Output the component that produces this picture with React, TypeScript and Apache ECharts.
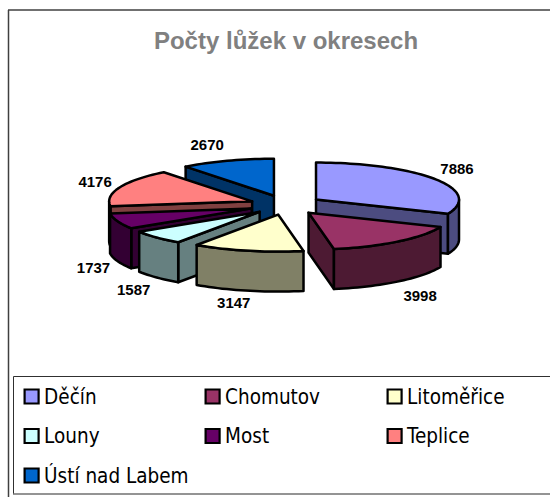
import React, { useEffect, useRef } from "react";
import * as echarts from "echarts";

const categories = ["Děčín", "Chomutov", "Litoměřice", "Louny", "Most", "Teplice", "Ústí nad Labem"];
const values = [7886, 3998, 3147, 1587, 1737, 4176, 2670];
const topColors = ["#9999FF", "#993366", "#FFFFCC", "#CCFFFF", "#660066", "#FF8080", "#0066CC"];
const sideColors = ["#4C4C80", "#4D1A33", "#808066", "#668080", "#330033", "#804040", "#003366"];
const drawZ = [2, 7, 6, 4, 3, 2, 1];
const labelNudge = [[22, -11], [22, 14], [-14, 12], [-23, 12.5], [-24, 6], [-24.5, -6.4], [-20, -16]];

const CX = 285.8, CY = 205, RX = 143, RY = 37, DX = 36.3, DY = 9.8, DEPTH = 40;
const total = values.reduce((a, b) => a + b, 0);
const rad = (d: number) => (d * Math.PI) / 180;

function renderSlice(index: number) {
  return (_params: any, api: any) => {
    const before = values.slice(0, index).reduce((a, b) => a + b, 0);
    const v = api.value(0);
    const t0 = (before / total) * 360;
    const t1 = ((before + v) / total) * 360;
    const mid = (t0 + t1) / 2;
    const ax = CX + DX * Math.sin(rad(mid));
    const ay = CY - DY * Math.cos(rad(mid));
    const pt = (t: number, z = 0): number[] => [ax + RX * Math.sin(rad(t)), ay - RY * Math.cos(rad(t)) + z];
    const arc = (a: number, b: number, z = 0) => {
      const n = Math.max(2, Math.ceil(Math.abs(b - a) / 2));
      const out: number[][] = [];
      for (let i = 0; i <= n; i++) out.push(pt(a + ((b - a) * i) / n, z));
      return out;
    };
    const line = { stroke: "#000", lineWidth: 2.5, lineJoin: "round" };
    const poly = (points: number[][], fill: string) => ({
      type: "polygon",
      shape: { points },
      style: { fill, ...line },
    });
    const side = sideColors[index];
    const children: any[] = [];
    // radial walls that face the viewer
    if (Math.sin(rad(t0)) < 0) {
      children.push(poly([[ax, ay], pt(t0), pt(t0, DEPTH), [ax, ay + DEPTH]], side));
    }
    if (Math.sin(rad(t1)) > 0) {
      children.push(poly([[ax, ay], pt(t1), pt(t1, DEPTH), [ax, ay + DEPTH]], side));
    }
    // outer rim, front half only
    const a = Math.max(t0, 90), b = Math.min(t1, 270);
    if (b > a) children.push(poly([...arc(a, b), ...arc(b, a, DEPTH)], side));
    // top
    children.push(poly([[ax, ay], ...arc(t0, t1)], topColors[index]));
    // value label
    const sm = Math.sin(rad(mid)), cm = Math.cos(rad(mid));
    const front = cm < 0 ? DEPTH : 0;
    children.push({
      type: "text",
      style: {
        x: ax + RX * sm + labelNudge[index][0],
        y: ay - RY * cm + front + labelNudge[index][1],
        text: String(v),
        fill: "#000",
        font: 'bold 15px "Liberation Sans", Arial, sans-serif',
        textAlign: "center",
        textVerticalAlign: "middle",
      },
    });
    return { type: "group", children };
  };
}

const legendBase = {
  orient: "vertical" as const,
  top: 386,
  padding: 0,
  itemWidth: 14,
  itemHeight: 14,
  itemGap: 18.5,
  icon: "rect",
  selectedMode: false,
  itemStyle: { borderColor: "#000", borderWidth: 2.2 },
  textStyle: { fontFamily: '"DejaVu Sans Condensed", sans-serif', fontSize: 20.5, color: "#000", padding: [0, 0, 0, 0.5] },
};

export default function App() {
  const ref = useRef<HTMLDivElement>(null);
  useEffect(() => {
    const chart = echarts.init(ref.current!, undefined, { renderer: "svg" });
    chart.setOption({
      animation: false,
      backgroundColor: "#fff",
      title: {
        text: "Počty lůžek v okresech",
        left: 281,
        top: 23,
        textAlign: "center",
        textStyle: { fontFamily: '"Liberation Sans", Arial, sans-serif', fontWeight: "bold", fontSize: 24, color: "#808080" },
      },
      legend: [
        { ...legendBase, left: 23.5, data: [categories[0], categories[3], categories[6]] },
        { ...legendBase, left: 204.5, data: [categories[1], categories[4]] },
        { ...legendBase, left: 386.5, data: [categories[2], categories[5]] },
      ],
      graphic: [
        { type: "line", shape: { x1: 8.5, y1: 10, x2: 8.5, y2: 497 }, style: { stroke: "#404040", lineWidth: 1.5 } },
        { type: "line", shape: { x1: 8, y1: 10, x2: 550, y2: 10 }, style: { stroke: "#404040", lineWidth: 1.5 } },
        { type: "line", shape: { x1: 13.5, y1: 376.5, x2: 550, y2: 376.5 }, style: { stroke: "#303030", lineWidth: 1 } },
        { type: "line", shape: { x1: 13.5, y1: 376.5, x2: 13.5, y2: 494 }, style: { stroke: "#303030", lineWidth: 1 } },
        { type: "line", shape: { x1: 13, y1: 494, x2: 550, y2: 494 }, style: { stroke: "#707070", lineWidth: 1.5 } },
      ],
      series: categories.map((name, i) => ({
        type: "custom",
        name,
        coordinateSystem: "none",
        z: drawZ[i],
        itemStyle: { color: topColors[i] },
        data: [[values[i]]],
        renderItem: renderSlice(i),
      })),
    });
    return () => chart.dispose();
  }, []);
  return <div ref={ref} style={{ position: "absolute", left: 0, top: 0, width: 550, height: 497 }} />;
}
